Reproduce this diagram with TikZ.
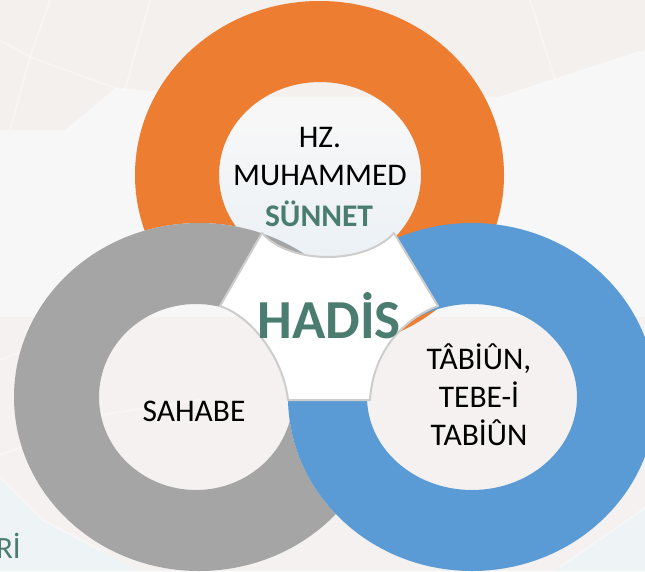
\documentclass[tikz,border=0pt]{standalone}
\usepackage{fontspec}
\setmainfont{Carlito}
\definecolor{ringorange}{HTML}{ED7D31}
\definecolor{ringgray}{HTML}{A5A5A5}
\definecolor{ringblue}{HTML}{5B9BD5}
\definecolor{hadisgreen}{HTML}{4A7C6F}
\definecolor{edgegray}{HTML}{CDCDCD}
\definecolor{paleback}{HTML}{F7F7F7}
\definecolor{paletop}{HTML}{F3F0EE}
\definecolor{palelow}{HTML}{F5F1F0}
\definecolor{palecorner}{HTML}{EEF3F5}
\definecolor{palesky}{HTML}{EBF1F6}
\tikzset{
    ringlabel/.style={font=\fontsize{31.5}{38}\selectfont, text=black, align=center},
    greenlabel/.style={font=\fontsize{31.5}{38}\selectfont\bfseries, text=hadisgreen},
    mapline/.style={white, opacity=0.35, line width=2pt}
}
\begin{document}
\begin{tikzpicture}[x=1pt,y=-1pt]
    \useasboundingbox (0,0) rectangle (645,571);

    \fill[paleback] (0,0) rectangle (645,571);
    \fill[paletop] (0,0)--(645,0)--(645,50)--(500,97)--(200,97)--(115,88)--(65,130)--(0,130)--cycle;
    \shade[top color=paleback, bottom color=palesky] (215,120) rectangle (425,260);
    \fill[palelow] (0,317)--(645,317)--(645,508)--(560,571)--(140,571)--(100,550)--(43,520)--(0,477)--cycle;
    \fill[palecorner] (0,477)--(43,520)--(100,550)--(140,571)--(0,571)--cycle;
    \fill[palecorner] (645,508)--(560,567)--(555,571)--(645,571)--cycle;
    \draw[mapline] (0,40)--(30,57)--(115,88)--(200,97);
    \draw[mapline] (50,0)--(30,57)--(10,130);
    \draw[mapline] (150,0)--(125,90);
    \draw[mapline] (530,0)--(555,80);
    \draw[mapline] (500,97)--(645,50);
    \draw[mapline] (0,360)--(40,345);
    \draw[mapline] (0,455)--(40,440);
    \draw[mapline] (100,415)--(200,400);
    \draw[mapline] (0,477)--(43,520)--(100,550);
    \draw[mapline] (645,508)--(560,567);

    % orange ring stays out of the gray disc
    \begin{scope}[even odd rule]
        \clip (-50,-50) rectangle (700,620) (199,397) ellipse [x radius=185pt, y radius=174pt];
        \fill[ringorange] (319.5,175) ellipse [x radius=184.5pt, y radius=174pt]
            (320,175) ellipse [x radius=101pt, y radius=93pt];
    \end{scope}

    % gray ring stays out of the blue disc
    \begin{scope}[even odd rule]
        \clip (-50,-50) rectangle (700,620) (472,397) ellipse [x radius=184pt, y radius=174pt];
        \fill[ringgray] (199,397) ellipse [x radius=185pt, y radius=174pt]
            (196,397) ellipse [x radius=97pt, y radius=93pt];
    \end{scope}

    \fill[ringblue, even odd rule] (472,397) ellipse [x radius=184pt, y radius=174pt]
        (472,397) ellipse [x radius=105pt, y radius=93pt];

    \draw[edgegray, fill=white, line width=2pt, line join=round]
        (262,233) .. controls (290,265) and (365,265) .. (394,233)
        -- (438,306) .. controls (405,318) and (373,350) .. (370,400)
        -- (288,400) .. controls (284,362) and (255,318) .. (220,306)
        -- cycle;

    \node[ringlabel] (prophet) at (320,157) {HZ.\\MUHAMMED};
    \node[greenlabel] (sunnet) at (319,214) {SÜNNET};
    \node[ringlabel] (sahabe) at (194,411) {SAHABE};
    \node[ringlabel] (tabiun) at (479,395) {TÂBİÛN,\\TEBE-İ\\TABİÛN};
    \node[greenlabel, font=\fontsize{55}{60}\selectfont\bfseries] (hadis) at (329,316) {HADİS};
    \node[greenlabel, font=\fontsize{31}{38}\selectfont, anchor=base east, inner sep=0pt] (cutword) at (21,558) {Rİ};
\end{tikzpicture}
\end{document}
